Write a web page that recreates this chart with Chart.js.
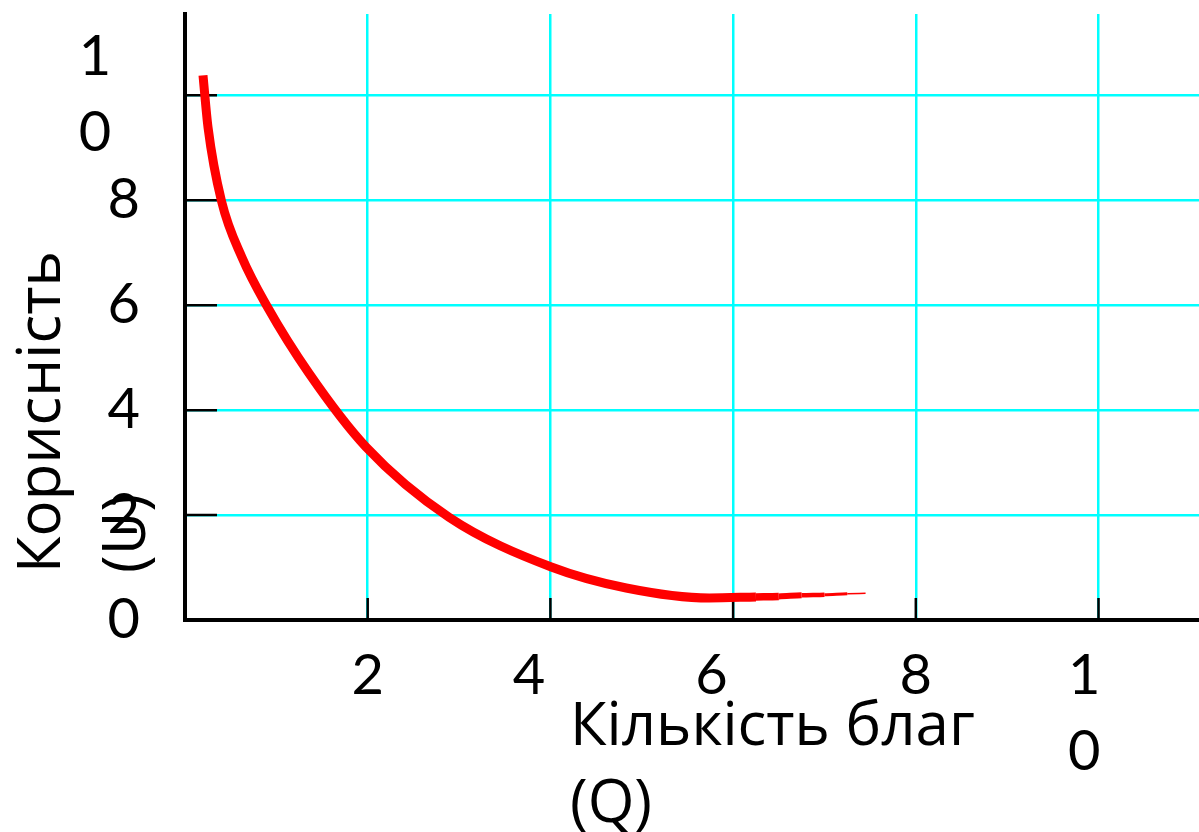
<!DOCTYPE html>
<html>
<head>
<meta charset="utf-8">
<script src="https://cdn.jsdelivr.net/npm/chart.js@4.4.1/dist/chart.umd.min.js"></script>
<style>
  html, body { margin: 0; padding: 0; background: #fff; }
  #wrap { width: 1199px; height: 832px; position: relative; }
</style>
</head>
<body>
<div id="wrap"><canvas id="canvas_util"></canvas></div>
<script>
// крива корисності, значення
var qVals = [0.197, 0.252, 0.40, 0.624, 0.898, 1.358, 1.98, 2.89, 4.01, 4.83, 5.74, 6.25, 6.50, 6.75, 7.00, 7.25, 7.45];
var uVals = [10.38, 9.39, 7.98, 6.91, 5.98, 4.70, 3.30, 1.96, 1.01, 0.61, 0.42, 0.44, 0.45, 0.47, 0.48, 0.50, 0.51];
// товщина хвоста кривої (звужується в кінці)
var tailWidths = [7.5, 6, 4.5, 3, 1.5];

var xTickLabels = { 2: '2', 4: '4   ', 6: '6   ', 8: '8', 10: ['1  ', '0  '] };
var yTickLabels = { 0: '0', 2: '2', 4: '4', 6: '6', 8: '8', 10: ['1  ', '0  '] };
var xTitle = ['Кількість благ', '(Q)'];
var yTitle = ['Корисність', '(U)'];

var tickFont = { family: 'Lato, "Open Sans", sans-serif', size: 56, lineHeight: 1.36 };
var titleFont = '60px "Open Sans", sans-serif';

var pts = [];
for (var i in qVals) {
  pts.push({ x: qVals[i], y: uVals[i] });
}
var tailStart = qVals.length - 1 - tailWidths.length;

// чорні поділки всередині області графіка
var innerTicks = {
  id: 'innerTicks',
  beforeDatasetsDraw: function(chart) {
    var ctx = chart.ctx, area = chart.chartArea;
    var sx = chart.scales.x, sy = chart.scales.y;
    ctx.save();
    ctx.strokeStyle = '#000';
    ctx.lineWidth = 2.5;
    ctx.beginPath();
    sx.ticks.forEach(function(t) {
      if (t.value === 0) return;
      var px = sx.getPixelForValue(t.value);
      ctx.moveTo(px, area.bottom);
      ctx.lineTo(px, area.bottom - 22);
    });
    sy.ticks.forEach(function(t) {
      if (t.value === 0) return;
      var py = sy.getPixelForValue(t.value);
      ctx.moveTo(area.left, py);
      ctx.lineTo(area.left + 32, py);
    });
    ctx.stroke();
    ctx.restore();
  }
};

// підписи осей
var axisTitles = {
  id: 'axisTitles',
  afterDraw: function(chart) {
    var ctx = chart.ctx;
    ctx.save();
    ctx.fillStyle = '#000';
    ctx.font = titleFont;
    ctx.textAlign = 'left';
    ctx.textBaseline = 'alphabetic';
    ctx.fillText(xTitle[0], 570, 745);
    ctx.fillText(xTitle[1], 570, 822);
    ctx.translate(0, 573);
    ctx.rotate(-Math.PI / 2);
    ctx.fillText(yTitle[0], 0, 60);
    ctx.fillText(yTitle[1], 0, 145);
    ctx.restore();
  }
};

var configUtil = {
  type: 'line',
  data: {
    datasets: [{
      data: pts,
      borderColor: '#ff0000',
      borderWidth: 9,
      borderCapStyle: 'butt',
      pointRadius: 0,
      cubicInterpolationMode: 'monotone',
      fill: false,
      segment: {
        borderWidth: function(c) {
          var k = c.p0DataIndex - tailStart;
          return k >= 0 ? tailWidths[k] : 9;
        }
      }
    }]
  },
  options: {
    responsive: true,
    maintainAspectRatio: false,
    animation: false,
    layout: { padding: { top: 14, right: 0, left: 0, bottom: 0 } },
    plugins: {
      legend: { display: false },
      tooltip: { enabled: false }
    },
    scales: {
      x: {
        type: 'linear',
        min: 0,
        max: 11.1,
        afterFit: function(s) {
          s.height = 212;
          s.paddingLeft = 0;
          s.paddingRight = 0;
        },
        border: { color: '#000', width: 4 },
        grid: { color: '#00ffff', lineWidth: 2.5, drawTicks: false },
        ticks: {
          stepSize: 2,
          includeBounds: false,
          autoSkip: false,
          maxRotation: 0,
          padding: 18,
          color: '#000',
          font: tickFont,
          callback: function(v) { return xTickLabels[v] || ''; }
        }
      },
      y: {
        min: 0,
        max: 11.55,
        afterFit: function(s) {
          s.width = 185;
          s.paddingTop = 0;
          s.paddingBottom = 0;
        },
        border: { color: '#000', width: 4 },
        grid: { color: '#00ffff', lineWidth: 2.5, drawTicks: false },
        ticks: {
          stepSize: 2,
          includeBounds: false,
          autoSkip: false,
          padding: 45,
          color: '#000',
          font: tickFont,
          callback: function(v) { return yTickLabels[v] || ''; }
        }
      }
    }
  },
  plugins: [innerTicks, axisTitles]
};

var ctx_util = document.getElementById('canvas_util').getContext('2d');
new Chart(ctx_util, configUtil);
</script>
</body>
</html>
